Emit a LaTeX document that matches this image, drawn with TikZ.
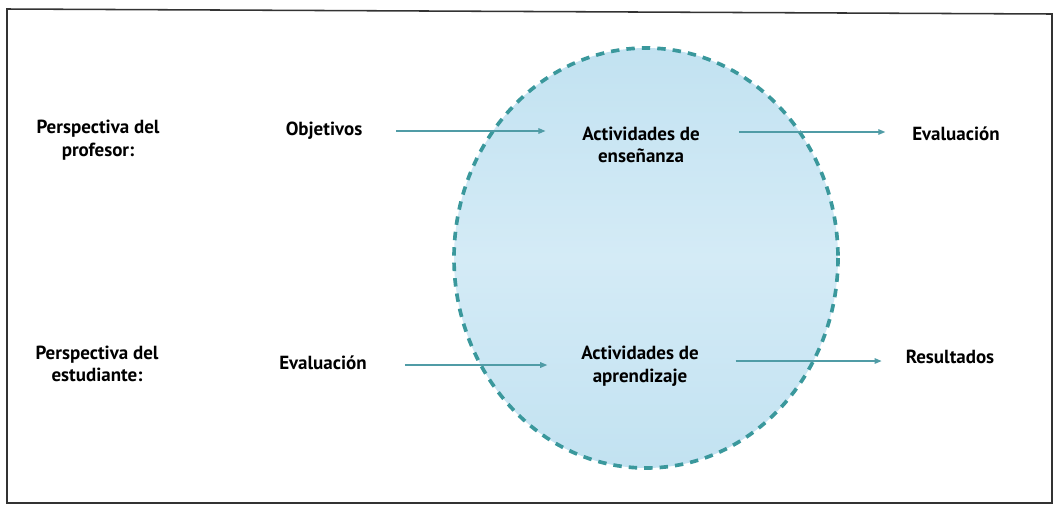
\documentclass[tikz,border=0pt]{standalone}
\usepackage{fontspec}
\setmainfont{PT Sans}[UprightFont={* Bold}]
\usetikzlibrary{arrows.meta,calc}

\definecolor{tealdash}{RGB}{58,152,156}
\definecolor{tealarrow}{RGB}{80,156,166}
\definecolor{bubble}{RGB}{194,226,241}
\definecolor{bubblemid}{RGB}{212,235,246}

\begin{document}
\begin{tikzpicture}[x=0.025cm, y=-0.025cm,
    every node/.style={font=\fontsize{13.5}{16}\selectfont, align=center, inner sep=2pt},
    flow/.style={draw=tealarrow, line width=0.8pt, -{Triangle[length=5pt,width=4pt]}}]
  \useasboundingbox (0,0) rectangle (1058,508);
  \draw[line width=1.1pt, black!80] (7,9) -- (1052,14) -- (1052,503) -- (7,503) -- cycle;

  % the shared bubble
  \shade[top color=bubble, bottom color=bubble, middle color=bubblemid]
    (646,258) ellipse [x radius=192, y radius=210];
  \draw[tealdash, line width=2.6pt, dash pattern=on 6pt off 5pt]
    (646,258) ellipse [x radius=192, y radius=210];

  % profesor
  \node (prof) at (98,140) {Perspectiva del\\profesor:};
  \node (obj)  at (324,131) {Objetivos};
  \node (ens)  at (641,145) {Actividades de\\ense\~nanza};
  \node (evp)  at (956,134) {Evaluaci\'on};

  % estudiante
  \node (est)  at (97,364) {Perspectiva del\\estudiante:};
  \node (eve)  at (323,363) {Evaluaci\'on};
  \node (apr)  at (640,366) {Actividades de\\aprendizaje};
  \node (res)  at (950,357) {Resultados};

  \draw[flow, shorten <=22pt, shorten >=24pt] (obj.east) -- (obj.east -| ens.west);
  \draw[flow, shorten <=26pt, shorten >=17pt] ($(ens.east)+(0,-13)$) -- ($(ens.east -| evp.west)+(0,-13)$);
  \draw[flow, shorten <=25pt, shorten >=22pt] ($(eve.east)+(0,2)$) -- ($(eve.east -| apr.west)+(0,2)$);
  \draw[flow, shorten <=24pt, shorten >=15pt] ($(apr.east)+(0,-5)$) -- ($(apr.east -| res.west)+(0,-5)$);
\end{tikzpicture}
\end{document}
